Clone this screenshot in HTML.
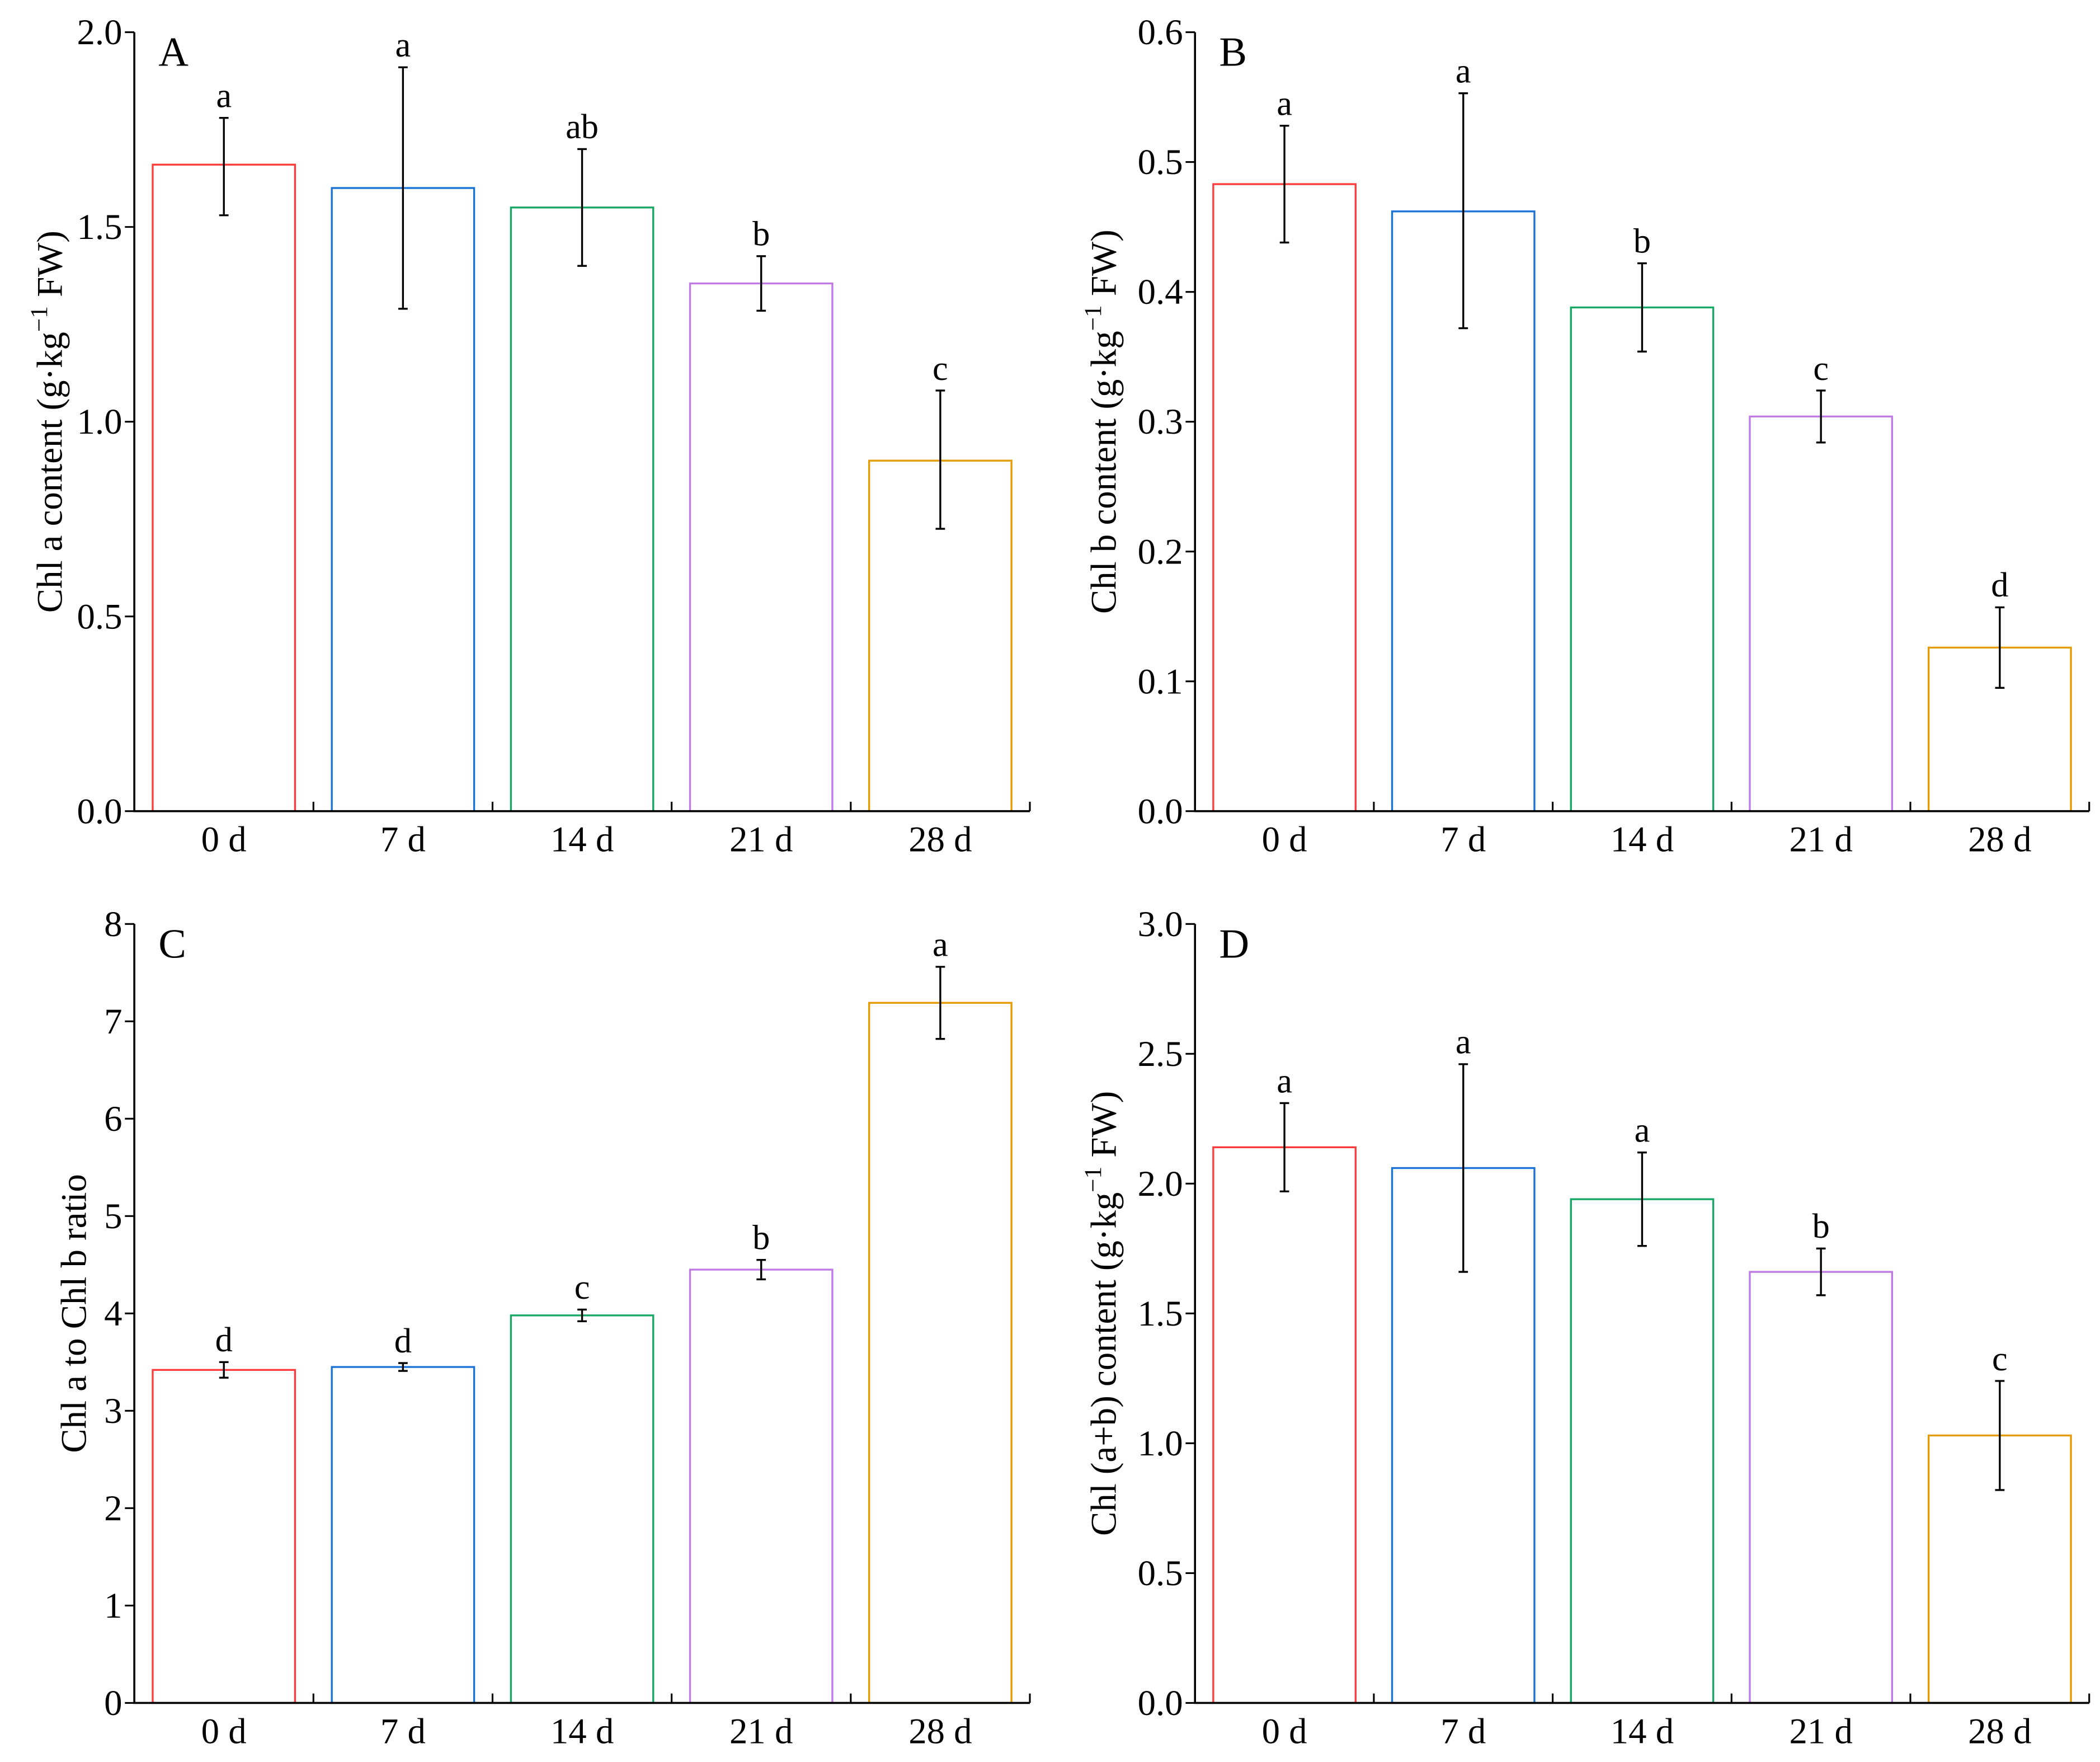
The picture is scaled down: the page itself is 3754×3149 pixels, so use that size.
<!DOCTYPE html>
<html><head><meta charset="utf-8"><style>
html,body{margin:0;padding:0;background:#fff}
svg{display:block;font-family:"Liberation Serif",serif}
</style></head><body>
<svg id="fig" width="3754" height="3149" viewBox="0 0 1564 1312" xmlns="http://www.w3.org/2000/svg"></svg>
<script>
const categories = ["0 d","7 d","14 d","21 d","28 d"];
const colors = ["#ff3b3b","#1a73d9","#17a865","#c07ae6","#e69c00"];
const valuesA = [1.66,1.60,1.55,1.355,0.90];
const errLoA = [1.53,1.29,1.40,1.285,0.725];
const errHiA = [1.78,1.91,1.70,1.425,1.08];
const lettersA = ["a","a","ab","b","c"];
const ticksA = ["0.0","0.5","1.0","1.5","2.0"];
const valuesB = [0.483,0.462,0.388,0.304,0.126];
const errLoB = [0.438,0.372,0.354,0.284,0.095];
const errHiB = [0.528,0.553,0.422,0.324,0.157];
const lettersB = ["a","a","b","c","d"];
const ticksB = ["0.0","0.1","0.2","0.3","0.4","0.5","0.6"];
const valuesC = [3.42,3.45,3.98,4.45,7.19];
const errLoC = [3.34,3.41,3.92,4.35,6.82];
const errHiC = [3.50,3.49,4.04,4.55,7.56];
const lettersC = ["d","d","c","b","a"];
const ticksC = ["0","1","2","3","4","5","6","7","8"];
const valuesD = [2.14,2.06,1.94,1.66,1.03];
const errLoD = [1.97,1.66,1.76,1.57,0.82];
const errHiD = [2.31,2.46,2.12,1.75,1.24];
const lettersD = ["a","a","a","b","c"];
const ticksD = ["0.0","0.5","1.0","1.5","2.0","2.5","3.0"];

const svg = document.getElementById('fig');
const NS = "http://www.w3.org/2000/svg";
function el(tag, attrs, parent){ const e=document.createElementNS(NS,tag); for(const k in attrs) e.setAttribute(k,attrs[k]); (parent||svg).appendChild(e); return e; }

function panel(id, x0, top, bottom, right, ticks, vals, lo, hi, letters, titleParts, titleX){
  const g = el('g',{});
  
  
  const ymax = parseFloat(ticks[ticks.length-1]);
  const y = v => bottom - (v/ymax)*(bottom-top);
  const step = (right - x0)/categories.length;
  const cx = i => x0 + step*(i+0.5);
  const bw = 106;
  vals.forEach((v,i)=>{
    const r = el('rect',{x:cx(i)-bw/2,y:y(v),width:bw,height:bottom-y(v),fill:'none',stroke:colors[i],'stroke-width':1.4},g);
    
    
    const e = el('path',{d:`M${cx(i)},${y(lo[i])}V${y(hi[i])}M${cx(i)-3.5},${y(lo[i])}h7M${cx(i)-3.5},${y(hi[i])}h7`,stroke:'#000','stroke-width':1.4,fill:'none'},g);
    
    
    const t = el('text',{x:cx(i),y:y(hi[i])-8,'text-anchor':'middle','font-size':26},g);
    t.textContent = letters[i];
    
    
    const xl = el('text',{x:cx(i),y:bottom+30,'text-anchor':'middle','font-size':27},g);
    xl.textContent = categories[i];
    
    
  });
  const ax = el('path',{d:`M${x0},${top}V${bottom}H${right}`,stroke:'#000','stroke-width':1.5,fill:'none'},g);
  
  
  for(let i=1;i<=categories.length;i++){
    el('line',{x1:x0+step*i,x2:x0+step*i,y1:bottom,y2:bottom-7,stroke:'#000','stroke-width':1.3},g);
  }
  ticks.forEach(tk=>{
    const v=parseFloat(tk);
    el('line',{x1:x0-7,x2:x0,y1:y(v),y2:y(v),stroke:'#000','stroke-width':1.3},g);
    const t=el('text',{x:x0-9,y:y(v)+9,'text-anchor':'end','font-size':27},g);
    t.textContent=tk;
    
    
  });
  const pl = el('text',{x:x0+18,y:top+25,'font-size':31},g);
  pl.textContent = id;
  
  
  const cy=(top+bottom)/2;
  const tt = el('text',{transform:`translate(${titleX},${cy}) rotate(-90)`,'text-anchor':'middle','font-size':27},g);
  
  
  titleParts.forEach(p=>{ const s=el('tspan',{},tt); s.textContent=p[0]; if(p[1]){s.setAttribute('dy',p[1]); s.setAttribute('font-size',p[2]||27);} });
}
const unitTitle = pre => [[pre+" (g·kg"],["−1","-11",18],[" FW)","11",27]];
panel('A',100,24,604,767,ticksA,valuesA,errLoA,errHiA,lettersA,unitTitle("Chl a content"),46);
panel('B',890,24,604,1556,ticksB,valuesB,errLoB,errHiB,lettersB,unitTitle("Chl b content"),831);
panel('C',100,688,1268,767,ticksC,valuesC,errLoC,errHiC,lettersC,[["Chl a to Chl b ratio"]],64);
panel('D',890,688,1268,1556,ticksD,valuesD,errLoD,errHiD,lettersD,unitTitle("Chl (a+b) content"),831);
</script>
</body></html>
